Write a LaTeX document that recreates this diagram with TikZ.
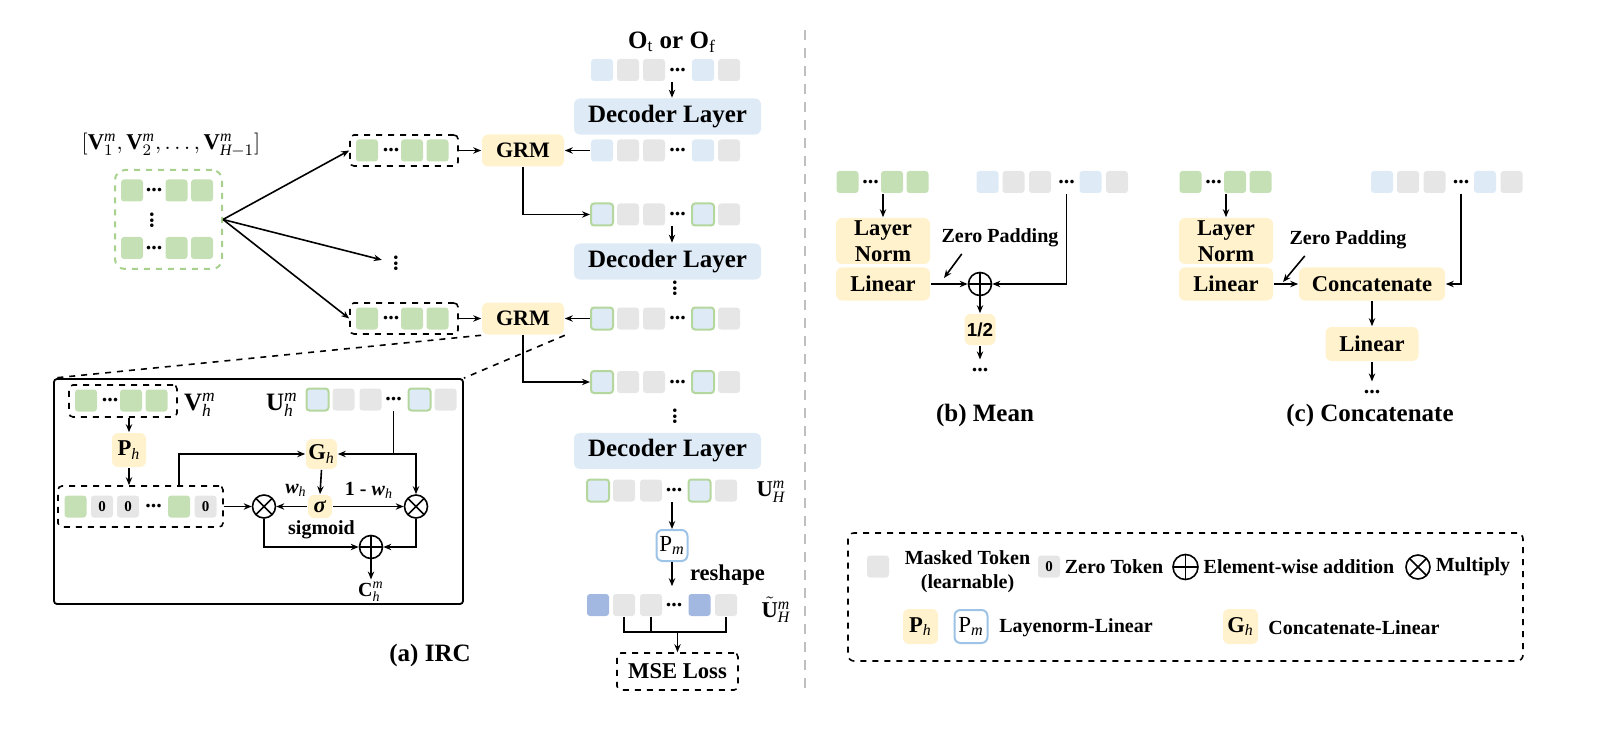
\documentclass[tikz,border=0pt]{standalone}
\usepackage{fontspec}
\setmainfont{Liberation Serif}
\setsansfont{Liberation Sans}
\usetikzlibrary{arrows.meta}
\definecolor{tokgreen}{HTML}{C5E0B4}
\definecolor{tokblue}{HTML}{DEEBF7}
\definecolor{tokgray}{HTML}{E7E6E6}
\definecolor{tokdark}{HTML}{A2B8E0}
\definecolor{boxyellow}{HTML}{FFF2CC}
\definecolor{bordgreen}{HTML}{B4D79E}
\definecolor{bordblue}{HTML}{9DC3E6}
\definecolor{setgreen}{HTML}{A9D18E}
\definecolor{sepgray}{HTML}{BFBFBF}
\newcommand\ftbig{\bfseries\fontsize{12.5}{15}\selectfont}
\newcommand\ftmid{\bfseries\fontsize{11.3}{13}\selectfont}
\newcommand\ftsmall{\bfseries\fontsize{10}{12}\selectfont}
\newcommand\ftgrm{\bfseries\fontsize{11}{13}\selectfont}
\newcommand\ftpm{\fontsize{11.5}{13}\selectfont}
\newcommand\fthalf{\sffamily\bfseries\fontsize{9.4}{11}\selectfont}
\begin{document}
\begin{tikzpicture}[x=0.5pt, y=-0.5pt, line width=0.8pt, >={Stealth[length=4pt,width=3.2pt]},
  tok/.style={rectangle, rounded corners=1.5pt, minimum size=11pt, inner sep=0pt},
  ztok/.style={tok, fill=tokgray, font=\bfseries\fontsize{7.5}{7.5}\selectfont},
  dots/.style={inner sep=0pt, font=\bfseries\fontsize{11}{11}\selectfont},
  vdots/.style={dots, rotate=90},
  dbox/.style={draw, dashed, rounded corners=2pt},
  ybox/.style={fill=boxyellow, rounded corners=3pt, inner sep=0pt},
  pbox/.style={draw=bordblue, line width=1pt, fill=white, rounded corners=3pt, inner sep=0pt, font=\ftpm},
  dec/.style={fill=tokblue, rounded corners=3pt, minimum width=93.5pt, minimum height=14.5pt, font=\ftbig},
  addn/.style={circle, draw, minimum size=11.5pt, inner sep=0pt,
    path picture={\draw[line width=0.8pt] (path picture bounding box.north) -- (path picture bounding box.south)
      (path picture bounding box.west) -- (path picture bounding box.east);}},
  muln/.style={circle, draw, minimum size=11.5pt, inner sep=0pt,
    path picture={\draw[line width=0.8pt] (path picture bounding box.north west) -- (path picture bounding box.south east)
      (path picture bounding box.north east) -- (path picture bounding box.south west);}}]
\useasboundingbox (0,0) rectangle (1614,733);
%\tikzstyle{every node}=[draw];
% (a) hidden states of the encoder
\node[font=\ftmid] (vlist) at (171,145) {$[\mathbf{V}_1^{\mathit{m}},\mathbf{V}_2^{\mathit{m}},\ldots,\mathbf{V}_{\mathit{H}-1}^{\mathit{m}}]$};
\node[draw=setgreen, dashed, line width=1pt, rounded corners=5pt, minimum width=53.5pt, minimum height=49.5pt] (vset) at (168.5,219.5) {};
\foreach \r/\y in {a/190.5, b/248}{
  \node[tok, fill=tokgreen] (vs\r1) at (132,\y) {};
  \node[dots] (vs\r2) at (154,\y) {...};
  \node[tok, fill=tokgreen] (vs\r3) at (176.5,\y) {};
  \node[tok, fill=tokgreen] (vs\r4) at (202,\y) {};
}
\node[vdots] (vsd) at (152,220.5) {...};
\foreach \i/\y in {1/150.5, 2/318.5}{
  \node[dbox, minimum width=54pt, minimum height=15.5pt] (vb\i) at (404,\y) {};
  \node[tok, fill=tokgreen] (vb\i-a) at (367,\y) {};
  \node[dots] (vb\i-b) at (391,\y) {...};
  \node[tok, fill=tokgreen] (vb\i-c) at (412,\y) {};
  \node[tok, fill=tokgreen] (vb\i-d) at (437.5,\y) {};
  \node[ybox, minimum width=41pt, minimum height=16pt, font=\ftgrm] (grm\i) at (523,\y) {GRM};
}
\node[vdots] (vd) at (396,263.5) {...};
\draw[->] (vset.east) -- (vb1.west);
\draw[->, shorten >=6pt] (vset.east) -- (vd);
\draw[->] (vset.east) -- (vb2.west);
% decoder column
\node[font=\ftbig] (obs) at (672,42) {$\mathbf{O}_{\mathrm{t}}$ or $\mathbf{O}_{\mathrm{f}}$};
\foreach \r/\y/\e in {1/70/none, 2/150.5/none, 3/214.5/bordgreen, 4/318.5/bordgreen, 5/382/bordgreen}{
  \node[tok, fill=tokblue, draw=\e, line width=1pt] (r\r-a) at (602,\y) {};
  \node[tok, fill=tokgray] (r\r-b) at (628,\y) {};
  \node[tok, fill=tokgray] (r\r-c) at (654,\y) {};
  \node[dots] (r\r-d) at (677.5,\y) {...};
  \node[tok, fill=tokblue, draw=\e, line width=1pt] (r\r-e) at (703,\y) {};
  \node[tok, fill=tokgray] (r\r-f) at (729,\y) {};
}
\foreach \r/\y/\c/\e in {6/490.5/tokblue/bordgreen, 7/605/tokdark/none}{
  \node[tok, fill=\c, draw=\e, line width=1pt] (r\r-a) at (598,\y) {};
  \node[tok, fill=tokgray] (r\r-b) at (624,\y) {};
  \node[tok, fill=tokgray] (r\r-c) at (651,\y) {};
  \node[dots] (r\r-d) at (674,\y) {...};
  \node[tok, fill=\c, draw=\e, line width=1pt] (r\r-e) at (699.5,\y) {};
  \node[tok, fill=tokgray] (r\r-f) at (726,\y) {};
}
\node[dec] (dec1) at (667.5,116.5) {Decoder Layer};
\node[dec] (dec2) at (667.5,261.5) {Decoder Layer};
\node[vdots] (dv1) at (675,288.5) {...};
\node[vdots] (dv2) at (675,416.5) {...};
\node[dec] (dec3) at (667.5,451) {Decoder Layer};
\node[font=\ftmid] (uhm) at (771,492) {$\mathbf{U}_{\mathit{H}}^{\mathit{m}}$};
\node[pbox, minimum size=15.5pt] (pm) at (672,545.5) {$\mathrm{P}_{\mathit{m}}$};
\node[font=\ftmid] (rsh) at (727.5,575) {reshape};
\node[font=\ftmid] (uhat) at (776,610) {$\tilde{\mathbf{U}}_{\mathit{H}}^{\mathit{m}}$};
\node[dbox, minimum width=60.5pt, minimum height=18.5pt, font=\ftmid] (mse) at (677.5,671.5) {MSE Loss};
\coordinate (jn) at (677.5,632);
\draw[->] (pm |- r1-c.south) -- (pm |- dec1.north);
\draw[->] (r2-a) -- (grm1);
\draw[->] (vb1) -- (grm1);
\draw[->] (grm1.south) |- (r3-a.west);
\draw[->] (pm |- r3-c.south) -- (pm |- dec2.north);
\draw[->] (r4-a) -- (grm2);
\draw[->] (vb2) -- (grm2);
\draw[->] (grm2.south) |- (r5-a.west);
\draw[->] (pm |- r6-c.south) -- (pm.north);
\draw[->, shorten >=3.5pt] (pm.south) -- (pm |- r7-c.north);
\draw (r7-b.south) |- (jn) -| (r7-f.south);
\draw (r7-c.south) -- (r7-c |- jn);
\draw[->] (jn) -- (mse.north);
% (a) IRC inset
\node[draw, line width=0.9pt, rounded corners=1.5pt, minimum width=204.5pt, minimum height=112.5pt] (irc) at (258.5,491.5) {};
\draw[dashed] (grm2.south west) -- (irc.north west);
\draw[dashed] (grm2.south east) -- (irc.north east);
\node[dbox, minimum width=54pt, minimum height=16pt] (vh) at (123,401) {};
\node[tok, fill=tokgreen] (vh-a) at (86,400.5) {};
\node[dots] (vh-b) at (110,400.5) {...};
\node[tok, fill=tokgreen] (vh-c) at (131,400.5) {};
\node[tok, fill=tokgreen] (vh-d) at (156.5,400.5) {};
\node[font=\ftbig] (vhl) at (200,405) {$\mathbf{V}_{\mathit{h}}^{\mathit{m}}$};
\node[font=\ftbig] (uhl) at (282,405) {$\mathbf{U}_{\mathit{h}}^{\mathit{m}}$};
\node[tok, fill=tokblue, draw=bordgreen, line width=1pt] (uh-a) at (317.5,399.5) {};
\node[tok, fill=tokgray] (uh-b) at (343.5,399.5) {};
\node[tok, fill=tokgray] (uh-c) at (370.5,399.5) {};
\node[dots] (uh-d) at (393.5,399.5) {...};
\node[tok, fill=tokblue, draw=bordgreen, line width=1pt] (uh-e) at (419.5,399.5) {};
\node[tok, fill=tokgray] (uh-f) at (445.5,399.5) {};
\node[ybox, minimum size=17pt, font=\ftmid] (ph) at (129,450) {$\mathbf{P}_{\mathit{h}}$};
\node[dbox, minimum width=82.5pt, minimum height=20.5pt] (zb) at (140.5,506.5) {};
\node[tok, fill=tokgreen] (zb-a) at (75.5,506.5) {};
\node[ztok] (zb-b) at (102,506.5) {0};
\node[ztok] (zb-c) at (128,506.5) {0};
\node[dots] (zb-d) at (153.5,506.5) {...};
\node[tok, fill=tokgreen] (zb-e) at (179,506.5) {};
\node[ztok] (zb-f) at (205.5,506.5) {0};
\node[ybox, minimum width=15.5pt, minimum height=15pt, font=\ftmid] (gh) at (321.5,454) {$\mathbf{G}_{\mathit{h}}$};
\node[ybox, minimum width=12pt, minimum height=11.5pt, font=\ftmid] (sg) at (320,506.5) {\textit{σ}};
\node[muln] (ml) at (264,506.5) {};
\node[muln] (mr) at (416,506.5) {};
\node[addn] (ad) at (371,547) {};
\node[font=\ftsmall] (wl) at (296,490) {\textit{w}$_{\mathit{h}}$};
\node[font=\ftsmall] (wr) at (369,490) {1 - \textit{w}$_{\mathit{h}}$};
\node[font=\ftsmall] (sgl) at (321.5,530) {sigmoid};
\node[font=\ftsmall, inner sep=1pt] (ch) at (371,592) {$\mathbf{C}_{\mathit{h}}^{\mathit{m}}$};
\draw[->] (ph |- vh.south) -- (ph.north);
\draw[->] (ph.south) -- (ph |- zb.north);
\draw[->] (zb-e |- zb.north) |- (gh.west);
\draw[->] (uh-d |- uh-c.south) |- (gh.east);
\draw[->] (uh-d |- gh) -| (mr.north);
\draw[->] (gh.south) -- (sg.north);
\draw[->] (zb.east) -- (ml.west);
\draw[->] (sg.west) -- (ml.east);
\draw[->] (sg.east) -- (mr.west);
\draw[->] (ml.south) |- (ad.west);
\draw[->] (mr.south) |- (ad.east);
\draw[->] (ad.south) -- (ch.north);
\node[font=\ftbig] (capa) at (430,655) {(a) IRC};
% separator
\draw[sepgray, line width=1pt, dash pattern=on 5pt off 4pt] (805,30) -- (805,692);
% (b) Mean and (c) Concatenate
\foreach \p/\dx/\du in {b/0/0, c/343/394.5}{
  \node[tok, fill=tokgreen] (\p-g1) at (847.5+\dx,182) {};
  \node[dots] (\p-g2) at (870.5+\dx,182) {...};
  \node[tok, fill=tokgreen] (\p-g3) at (892+\dx,182) {};
  \node[tok, fill=tokgreen] (\p-g4) at (917.5+\dx,182) {};
  \node[tok, fill=tokblue] (\p-u1) at (987.5+\du,182) {};
  \node[tok, fill=tokgray] (\p-u2) at (1013.5+\du,182) {};
  \node[tok, fill=tokgray] (\p-u3) at (1040+\du,182) {};
  \node[dots] (\p-u4) at (1066.5+\du,182) {...};
  \node[tok, fill=tokblue] (\p-u5) at (1090.5+\du,182) {};
  \node[tok, fill=tokgray] (\p-u6) at (1117+\du,182) {};
  \node[ybox, minimum width=47pt, minimum height=23pt, align=center, font=\ftmid] (\p-ln) at (883+\dx,241) {Layer\\Norm};
  \node[ybox, minimum width=47pt, minimum height=16.5pt, font=\ftmid] (\p-li) at (883+\dx,284) {Linear};
  \draw[->] (\p-ln |- \p-g1.south) -- (\p-ln.north);
}
\node[addn] (ad1) at (980,284) {};
\node[ybox, minimum size=15.5pt, font=\fthalf] (half) at (980,329.5) {1/2};
\node[dots] (hd) at (980,370) {...};
\node[font=\ftsmall, inner sep=0pt] (zp1) at (1000,238) {Zero Padding};
\coordinate (zt1) at (944,278);
\draw[->] (b-li) -- (ad1);
\draw[->] (b-u4 |- b-u3.south) |- (ad1.east);
\draw[->] (ad1) -- (half);
\draw[->, shorten >=4pt] (half) -- (hd);
\draw[->] ([shift={(21,6)}]zp1.south west) -- (zt1);
\node[font=\ftbig] (capb) at (985,415) {(b) Mean};
\node[ybox, minimum width=73pt, minimum height=16.5pt, font=\ftmid] (cat) at (1372,284) {Concatenate};
\node[ybox, minimum width=46.5pt, minimum height=17pt, font=\ftmid] (li3) at (1372,344) {Linear};
\node[dots] (cd) at (1372,392) {...};
\node[font=\ftsmall, inner sep=0pt] (zp2) at (1348,240) {Zero Padding};
\coordinate (zt2) at (1283,282);
\draw[->] (c-li) -- (cat);
\draw[->] (c-u4 |- c-u3.south) |- (cat.east);
\draw[->] (cat) -- (li3);
\draw[->, shorten >=4pt] (li3) -- (cd);
\draw[->] ([shift={(16,6)}]zp2.south west) -- (zt2);
\node[font=\ftbig] (capc) at (1370,415) {(c) Concatenate};
% legend
\node[draw, dashed, rounded corners=3pt, minimum width=337.5pt, minimum height=64pt] (leg) at (1185.5,597) {};
\node[tok, fill=tokgray] (lmk) at (878,566.5) {};
\node[font=\ftsmall, align=center] (lmkt) at (967.5,572) {Masked Token\\(learnable)};
\node[ztok] (lzt) at (1049,566.5) {0};
\node[font=\ftsmall] (lztt) at (1114,567) {Zero Token};
\node[addn, minimum size=12.5pt] (lad) at (1185.5,567) {};
\node[font=\ftsmall] (ladt) at (1299,567) {Element-wise addition};
\node[muln, minimum size=12pt] (lmu) at (1418,567) {};
\node[font=\ftsmall] (lmut) at (1473,567) {Multiply};
\node[ybox, minimum size=17.5pt, font=\ftmid] (lph) at (920.5,626.5) {$\mathbf{P}_{\mathit{h}}$};
\node[pbox, minimum size=16.5pt] (lpm) at (971,626.5) {$\mathrm{P}_{\mathit{m}}$};
\node[font=\ftsmall] (lpt) at (1076,628) {Layenorm-Linear};
\node[ybox, minimum size=17.5pt, font=\ftmid] (lgh) at (1240.5,626.5) {$\mathbf{G}_{\mathit{h}}$};
\node[font=\ftsmall] (lgt) at (1354,628) {Concatenate-Linear};
\end{tikzpicture}
\end{document}
